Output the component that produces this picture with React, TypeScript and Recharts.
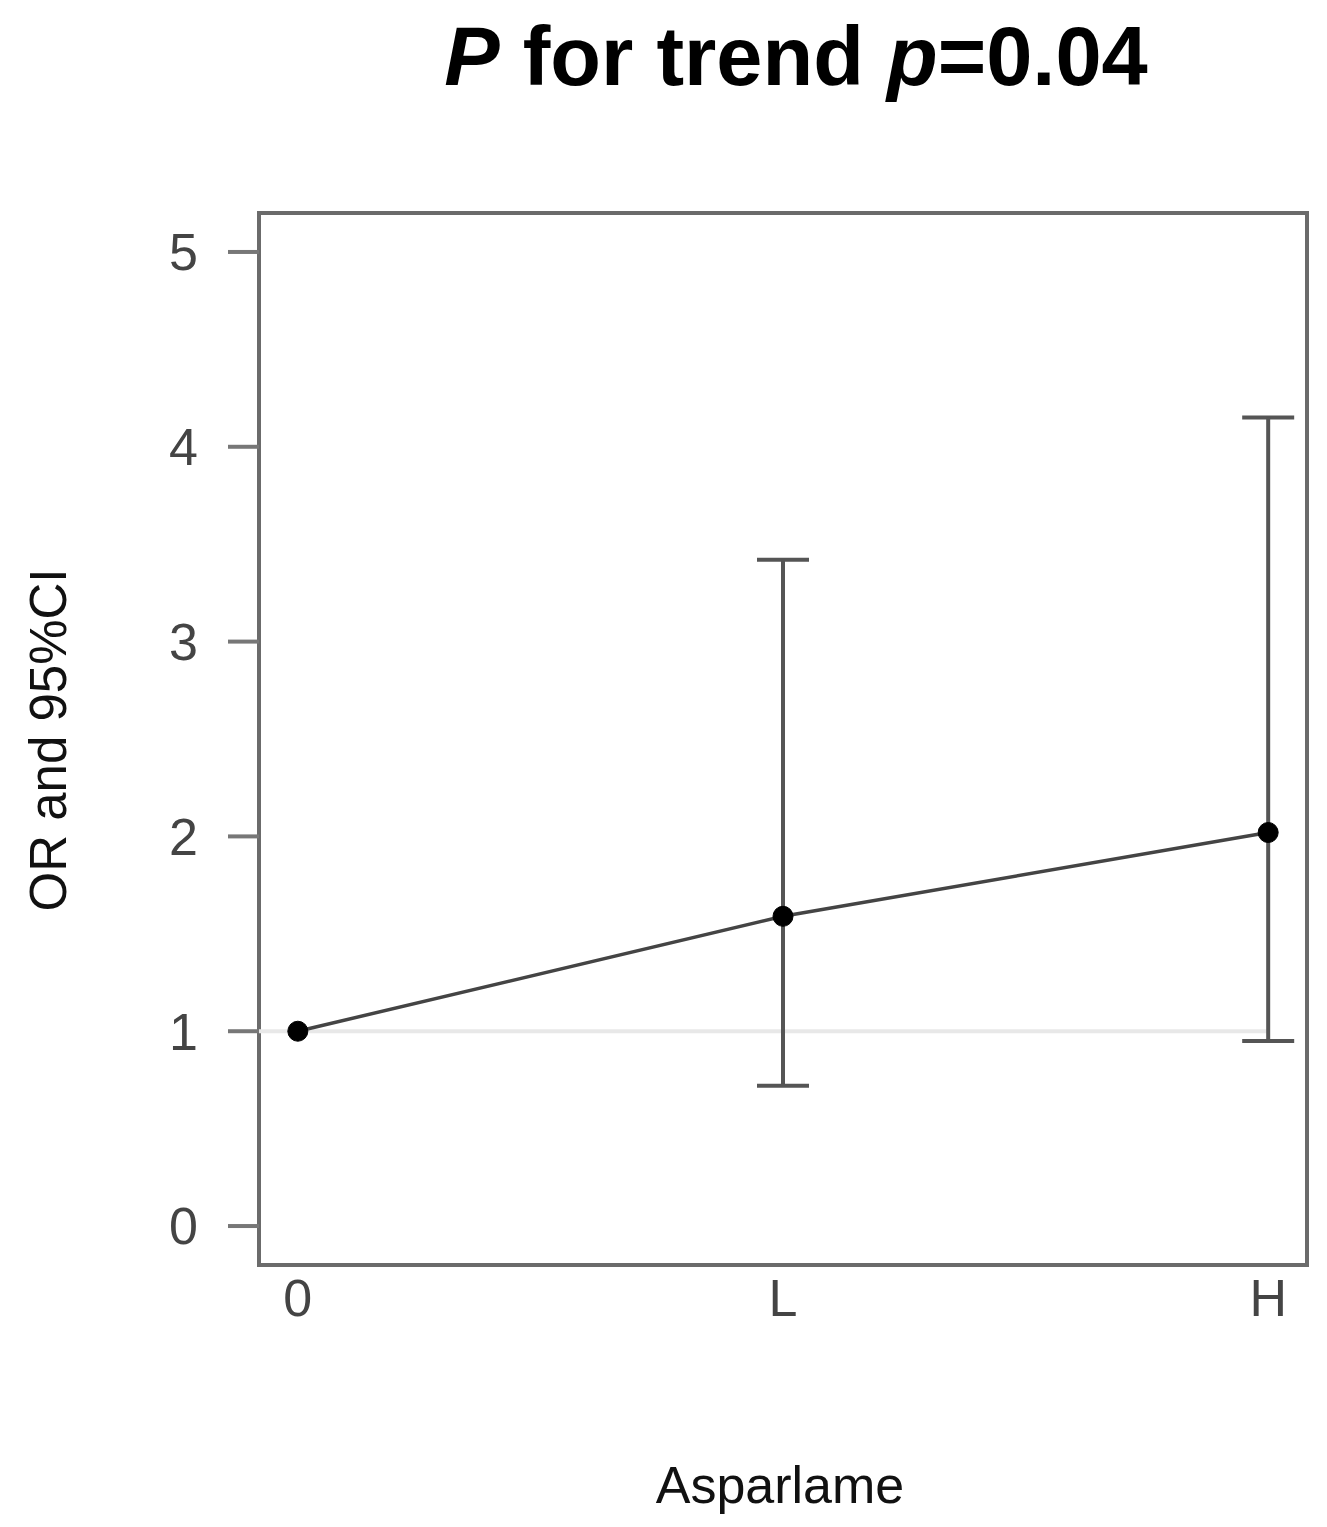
import React from 'react';
import {
  ComposedChart,
  Line,
  Scatter,
  ErrorBar,
  XAxis,
  YAxis,
  ReferenceLine,
  ReferenceArea,
} from 'recharts';

const categories = ['0', 'L', 'H'];
const positions = [1, 2, 3];
const oddsRatio = [1, 1.59, 2.02];
const ciLower = [null, 0.72, 0.95];
const ciUpper = [null, 3.42, 4.15];
const yTicks = [0, 1, 2, 3, 4, 5];

const FONT = '"Liberation Sans", Arial, sans-serif';

const lineData = positions.map((x, i) => ({ x, or: oddsRatio[i] }));

// only L and H have a CI; error bar wants deltas from the point
const ciData = positions
  .map((x, i) => ({ x, or: oddsRatio[i], lo: ciLower[i], hi: ciUpper[i] }))
  .filter((d) => d.lo != null && d.hi != null)
  .map((d) => ({ x: d.x, or: d.or, err: [d.or - (d.lo as number), (d.hi as number) - d.or] }));

const App: React.FC = () => {
  return (
    <div style={{ position: 'absolute', left: 0, top: 0 }}>
      <ComposedChart
        width={1327}
        height={1527}
        margin={{ top: 213, right: 20, bottom: 162, left: 0 }}>
        <XAxis
          dataKey='x'
          type='number'
          domain={[0.92, 3.08]}
          ticks={positions}
          allowDataOverflow
          tickFormatter={(v: number) => categories[positions.indexOf(v)]}
          axisLine={false}
          tickLine={false}
          tickSize={0}
          tickMargin={14}
          height={100}
          tick={{ fill: '#444', fontSize: 52, fontFamily: FONT }}
          label={{
            content: () => (
              <g>
                <text
                  x={780}
                  y={1503}
                  textAnchor='middle'
                  fill='#111'
                  fontSize={52}
                  fontFamily={FONT}>
                  Asparlame
                </text>
                <text
                  x={796}
                  y={85}
                  textAnchor='middle'
                  fill='#000'
                  fontSize={83}
                  fontWeight='bold'
                  fontFamily={FONT}>
                  <tspan fontStyle='italic'>P</tspan> for trend <tspan fontStyle='italic'>p</tspan>=0.04
                </text>
              </g>
            ),
          }}
        />
        <YAxis
          type='number'
          domain={[-0.2, 5.2]}
          ticks={yTicks}
          allowDataOverflow
          width={259}
          axisLine={false}
          tickLine={{ stroke: '#777', strokeWidth: 4 }}
          tickSize={31}
          tickMargin={30}
          tick={{ fill: '#444', fontSize: 52, fontFamily: FONT }}
          label={{
            content: () => (
              <text
                x={66}
                y={740}
                transform='rotate(-90, 66, 740)'
                textAnchor='middle'
                fill='#111'
                fontSize={51}
                fontFamily={FONT}>
                OR and 95%CI
              </text>
            ),
          }}
        />
        <ReferenceLine
          segment={[
            { x: 0.92, y: 1 },
            { x: 3, y: 1 },
          ]}
          stroke='#e8e8e8'
          strokeWidth={4}
        />
        <Scatter
          data={ciData}
          dataKey='or'
          shape={() => <g />}
          isAnimationActive={false}>
          <ErrorBar
            dataKey='err'
            direction='y'
            width={26}
            stroke='#555'
            strokeWidth={4}
            isAnimationActive={false}
          />
        </Scatter>
        <Line
          data={lineData}
          dataKey='or'
          stroke='#444'
          strokeWidth={3.5}
          dot={{ r: 10, fill: '#000', stroke: '#000', strokeWidth: 1 }}
          activeDot={false}
          isAnimationActive={false}
        />
        <ReferenceArea
          x1={0.92}
          x2={3.08}
          y1={-0.2}
          y2={5.2}
          fill='none'
          stroke='#6b6b6b'
          strokeWidth={4}
        />
      </ComposedChart>
    </div>
  );
};

export default App;
